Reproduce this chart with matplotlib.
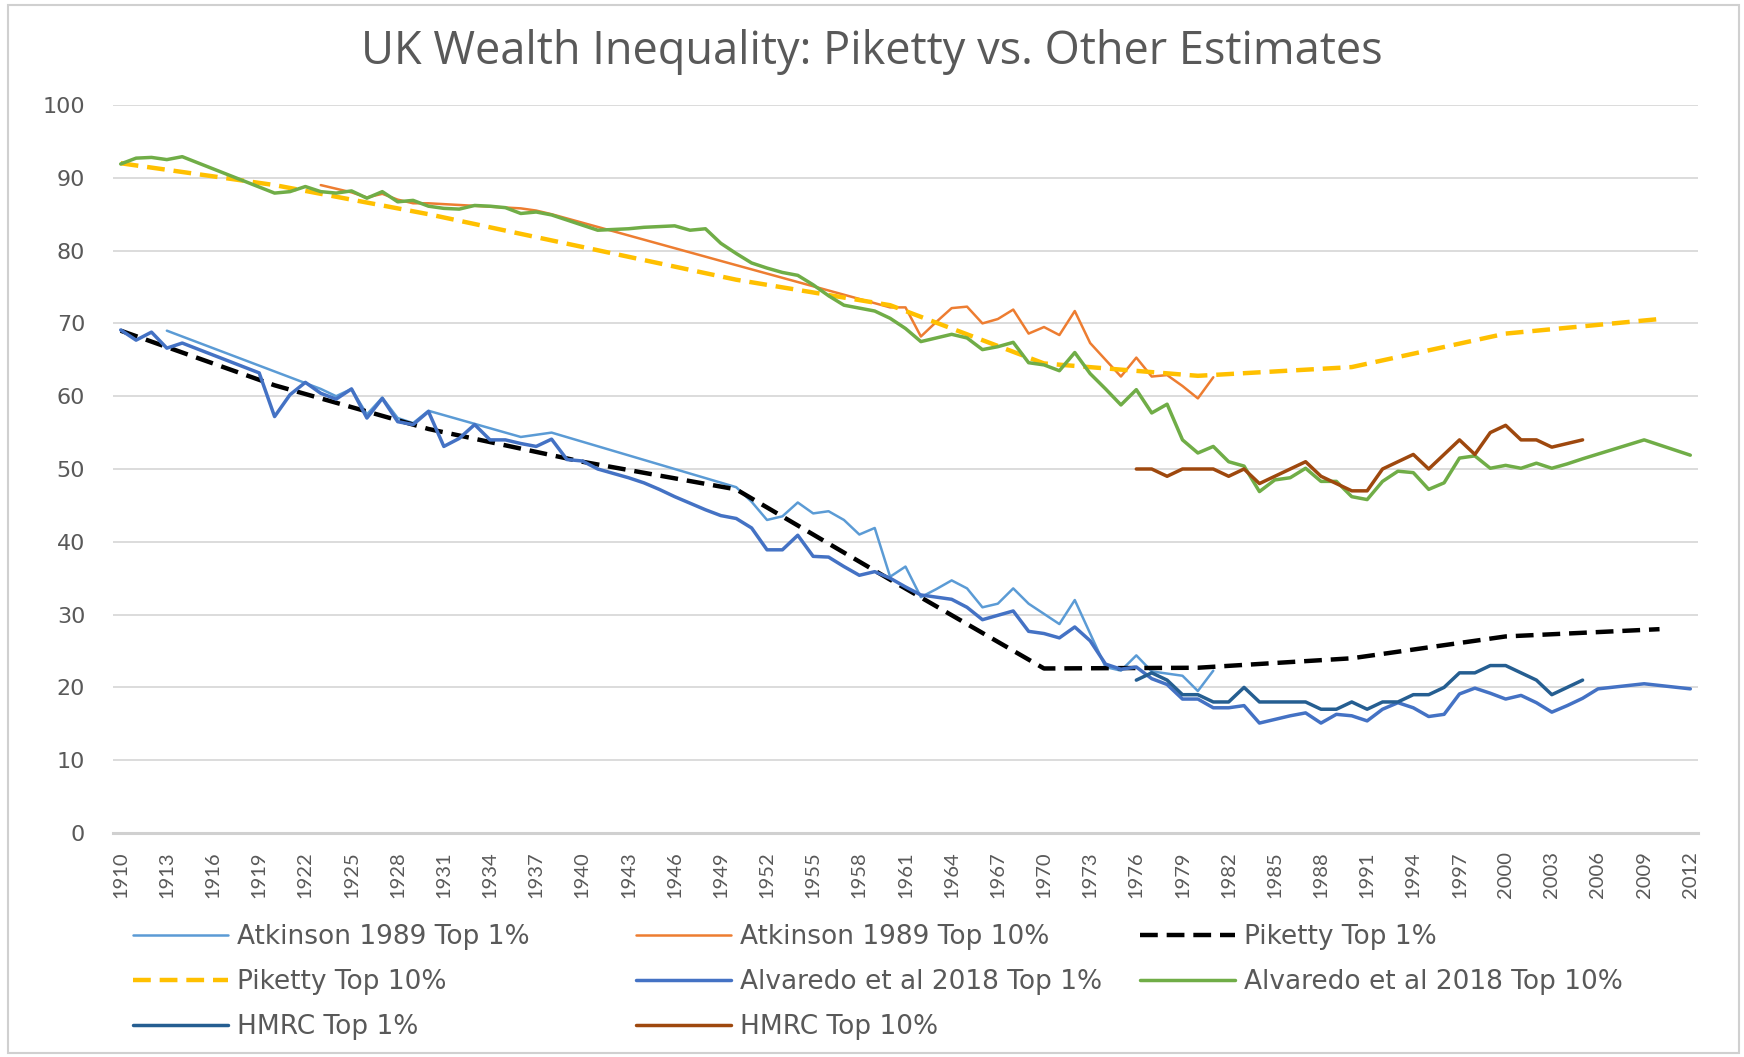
import matplotlib
matplotlib.use('Agg')
import matplotlib.pyplot as plt
from matplotlib.patches import Rectangle
import numpy as np

# ---- data ----
atk1_years = [1913, 1923, 1924, 1925, 1926, 1927, 1928, 1929, 1930, 1936, 1937, 1938,
              1950, 1951, 1952, 1953, 1954, 1955, 1956, 1957, 1958, 1959, 1960, 1961,
              1962, 1963, 1964, 1965, 1966, 1967, 1968, 1969, 1970, 1971, 1972, 1973,
              1974, 1975, 1976, 1977, 1978, 1979, 1980, 1981]
atk1_vals = [69.0, 61.0, 60.0, 61.0, 57.5, 59.8, 57.0, 56.3, 58.0, 54.4, 54.7, 55.0,
             47.5, 45.5, 43.0, 43.5, 45.4, 43.9, 44.2, 43.0, 41.0, 41.9, 35.2, 36.6,
             32.4, 33.5, 34.7, 33.6, 31.0, 31.5, 33.6, 31.5, 30.1, 28.7, 32.0, 27.4,
             22.8, 22.3, 24.4, 22.2, 21.9, 21.6, 19.5, 22.3]

atk10_years = [1923, 1924, 1925, 1926, 1927, 1928, 1929, 1930, 1936, 1937, 1938, 1950,
               1960, 1961, 1962, 1963, 1964, 1965, 1966, 1967, 1968, 1969, 1970, 1971,
               1972, 1973, 1974, 1975, 1976, 1977, 1978, 1979, 1980, 1981]
atk10_vals = [89.0, 88.5, 88.0, 87.3, 87.8, 87.0, 86.5, 86.5, 85.8, 85.5, 85.0, 78.0,
              72.2, 72.2, 68.2, 70.2, 72.1, 72.3, 70.0, 70.6, 71.9, 68.6, 69.5, 68.4,
              71.7, 67.3, 65.0, 62.7, 65.3, 62.7, 62.9, 61.4, 59.7, 62.6]

piketty_years = [1910, 1920, 1930, 1940, 1950, 1960, 1970, 1980, 1990, 2000, 2010]
piketty1_vals = [69.0, 61.5, 55.5, 51.0, 47.2, 34.8, 22.6, 22.7, 24.0, 27.0, 28.0]
piketty10_vals = [92.0, 89.0, 85.0, 80.5, 76.0, 72.5, 64.5, 62.8, 64.0, 68.6, 70.6]

alv_years = [1910, 1911, 1912, 1913, 1914, 1919, 1920, 1921, 1922, 1923, 1924, 1925,
             1926, 1927, 1928, 1929, 1930, 1931, 1932, 1933, 1934, 1935, 1936, 1937,
             1938, 1939, 1940, 1941, 1942, 1943, 1944, 1945, 1946, 1947, 1948, 1949,
             1950, 1951, 1952, 1953, 1954, 1955, 1956, 1957, 1958, 1959, 1960, 1961,
             1962, 1963, 1964, 1965, 1966, 1967, 1968, 1969, 1970, 1971, 1972, 1973,
             1974, 1975, 1976, 1977, 1978, 1979, 1980, 1981, 1982, 1983, 1984, 1985,
             1986, 1987, 1988, 1989, 1990, 1991, 1992, 1993, 1994, 1995, 1996, 1997,
             1998, 1999, 2000, 2001, 2002, 2003, 2004, 2005, 2006, 2009, 2012]
alv1_vals = [69.1, 67.7, 68.8, 66.6, 67.3, 63.2, 57.2, 60.2, 61.9, 60.4, 59.6, 61.0,
             57.0, 59.7, 56.5, 56.1, 57.9, 53.1, 54.2, 56.1, 54.0, 54.0, 53.5, 53.1,
             54.1, 51.3, 51.1, 50.0, 49.4, 48.8, 48.1, 47.2, 46.2, 45.3, 44.4, 43.6,
             43.2, 41.9, 38.9, 38.9, 40.9, 38.0, 37.9, 36.6, 35.4, 35.9, 35.0, 33.8,
             32.7, 32.4, 32.1, 31.0, 29.3, 29.9, 30.5, 27.7, 27.4, 26.8, 28.3, 26.4,
             23.2, 22.5, 22.8, 21.2, 20.4, 18.4, 18.4, 17.2, 17.2, 17.5, 15.1, 15.6,
             16.1, 16.5, 15.1, 16.3, 16.1, 15.4, 17.0, 17.9, 17.2, 16.0, 16.3, 19.1,
             19.9, 19.2, 18.4, 18.9, 17.9, 16.6, 17.5, 18.5, 19.8, 20.5, 19.8]

alv10_years = [1910, 1911, 1912, 1913, 1914, 1920, 1921, 1922, 1923, 1924, 1925, 1926,
               1927, 1928, 1929, 1930, 1931, 1932, 1933, 1934, 1935, 1936, 1937, 1938,
               1939, 1940, 1941, 1942, 1943, 1944, 1945, 1946, 1947, 1948, 1949, 1950,
               1951, 1952, 1953, 1954, 1955, 1956, 1957, 1958, 1959, 1960, 1961, 1962,
               1963, 1964, 1965, 1966, 1967, 1968, 1969, 1970, 1971, 1972, 1973, 1974,
               1975, 1976, 1977, 1978, 1979, 1980, 1981, 1982, 1983, 1984, 1985, 1986,
               1987, 1988, 1989, 1990, 1991, 1992, 1993, 1994, 1995, 1996, 1997, 1998,
               1999, 2000, 2001, 2002, 2003, 2004, 2005, 2009, 2012]
alv10_vals = [91.9, 92.7, 92.8, 92.5, 92.9, 87.9, 88.1, 88.8, 88.1, 87.9, 88.2, 87.2,
              88.1, 86.7, 86.9, 86.1, 85.8, 85.7, 86.2, 86.1, 85.9, 85.1, 85.3, 84.9,
              84.2, 83.5, 82.8, 82.9, 83.0, 83.2, 83.3, 83.4, 82.8, 83.0, 81.0, 79.6,
              78.3, 77.6, 77.0, 76.6, 75.3, 73.8, 72.5, 72.1, 71.7, 70.7, 69.3, 67.5,
              68.0, 68.5, 68.0, 66.4, 66.8, 67.4, 64.6, 64.3, 63.5, 66.0, 63.1, 61.0,
              58.8, 60.9, 57.7, 58.9, 54.0, 52.2, 53.1, 51.0, 50.4, 46.9, 48.5, 48.8,
              50.1, 48.3, 48.3, 46.2, 45.8, 48.3, 49.7, 49.5, 47.2, 48.1, 51.5, 51.8,
              50.1, 50.5, 50.1, 50.8, 50.1, 50.7, 51.4, 54.0, 51.9]

hmrc_years = list(range(1976, 2006))
hmrc1_vals = [21, 22, 21, 19, 19, 18, 18, 20, 18, 18, 18, 18, 17, 17, 18, 17, 18, 18,
              19, 19, 20, 22, 22, 23, 23, 22, 21, 19, 20, 21]
hmrc10_vals = [50, 50, 49, 50, 50, 50, 49, 50, 48, 49, 50, 51, 49, 48, 47, 47, 50, 51,
               52, 50, 52, 54, 52, 55, 56, 54, 54, 53, 53.5, 54]

tick_years = list(range(1910, 2013, 3))

grey = '#595959'

fig = plt.figure(figsize=(17.44, 10.57), dpi=100)
ax = fig.add_axes([113/1744, 1-833/1057, (1698-113)/1744, (833-105)/1057])

kw = dict(solid_joinstyle='round', solid_capstyle='round')
ax.plot(atk1_years, atk1_vals, color='#5B9BD5', lw=1.8, label='Atkinson 1989 Top 1%', **kw)
ax.plot(atk10_years, atk10_vals, color='#ED7D31', lw=1.8, label='Atkinson 1989 Top 10%', **kw)
ax.plot(piketty_years, piketty1_vals, color='black', lw=3.2, dashes=(4, 2),
        label='Piketty Top 1%')
ax.plot(piketty_years, piketty10_vals, color='#FFC000', lw=3.2, dashes=(4, 2),
        label='Piketty Top 10%')
ax.plot(alv_years, alv1_vals, color='#4472C4', lw=2.5, label='Alvaredo et al 2018 Top 1%', **kw)
ax.plot(alv10_years, alv10_vals, color='#70AD47', lw=2.5, label='Alvaredo et al 2018 Top 10%', **kw)
ax.plot(hmrc_years, hmrc1_vals, color='#255E91', lw=2.5, label='HMRC Top 1%', **kw)
ax.plot(hmrc_years, hmrc10_vals, color='#9E480E', lw=2.5, label='HMRC Top 10%', **kw)

ax.set_xlim(1909.5, 2012.5)
ax.set_ylim(0, 100)
ax.set_yticks(range(0, 101, 10))
ax.set_xticks(tick_years)
ax.set_xticklabels([str(y) for y in tick_years], rotation=90, fontsize=14.5,
                   family='Lato', color=grey)
for lab in ax.get_yticklabels():
    lab.set_fontsize(16)
    lab.set_family('DejaVu Sans')
    lab.set_color(grey)
ax.tick_params(axis='y', length=0, pad=20)
ax.tick_params(axis='x', length=0, pad=13)
ax.yaxis.grid(True, color='#d9d9d9', lw=1.3)
ax.set_axisbelow(True)
for s in ['top', 'right', 'left']:
    ax.spines[s].set_visible(False)
ax.spines['bottom'].set_color('#d0d0d0')
ax.spines['bottom'].set_linewidth(2.2)

fig.text(0.5, 1-52/1057, 'UK Wealth Inequality: Piketty vs. Other Estimates',
         ha='center', va='center', fontsize=32.5, family='Open Sans', color=grey)

# legend in three fixed-width columns, like Excel
handles, labels = ax.get_legend_handles_labels()
cols = [[0, 3, 6], [1, 4, 7], [2, 5]]
col_x = [133/1744, 636/1744, 1140/1744]
for idx, x0 in zip(cols, col_x):
    leg = fig.legend([handles[i] for i in idx], [labels[i] for i in idx],
                     loc='upper left', bbox_to_anchor=(x0, 1-924/1057),
                     frameon=False, prop={'family': 'DejaVu Sans', 'size': 19},
                     handlelength=3.6, handletextpad=0.35, labelspacing=0.72,
                     borderpad=0, borderaxespad=0, labelcolor=grey)

fig.patches.append(Rectangle((8/1744, 4/1057), 1731/1744, 1048/1057,
                             transform=fig.transFigure, fill=False,
                             edgecolor='#d0d0d0', lw=1.5))

fig.savefig('out.png', dpi=100)
